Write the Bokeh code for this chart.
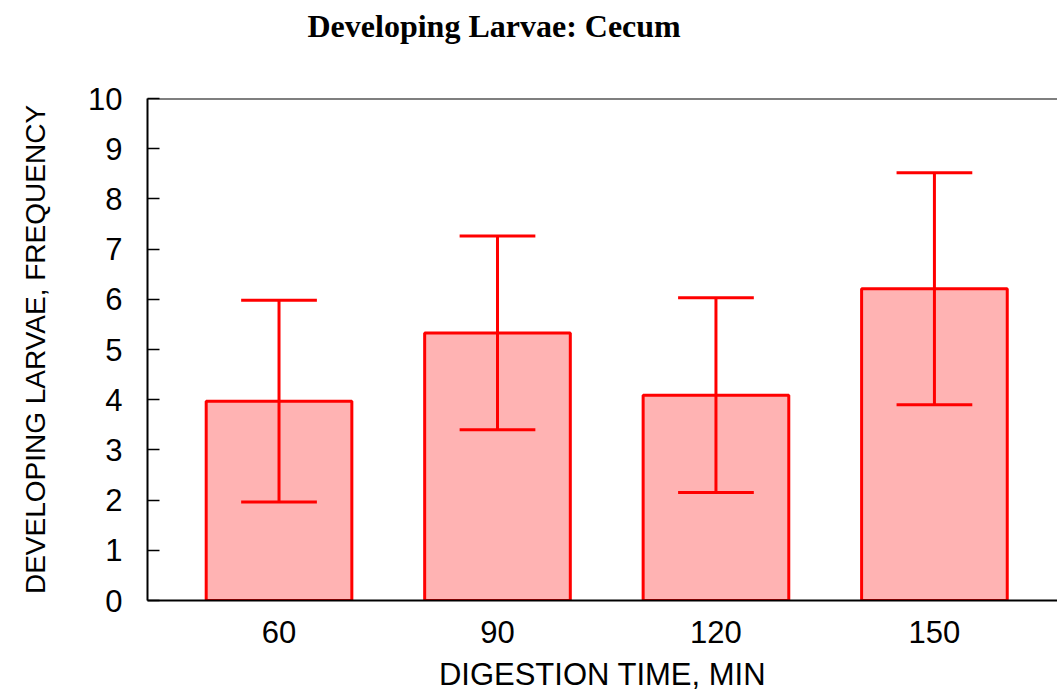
import numpy as np
from bokeh.plotting import figure
from bokeh.models import ColumnDataSource, Span, FixedTicker, Range1d, Title
from bokeh.embed import file_html
from bokeh.resources import INLINE

# Data
times = [60, 90, 120, 150]
means = [3.97, 5.33, 4.09, 6.21]
errors = [2.01, 1.93, 1.94, 2.31]
y_ticks = [0, 1, 2, 3, 4, 5, 6, 7, 8, 9, 10]
title_text = "Developing Larvae: Cecum"

lower = [m - e for m, e in zip(means, errors)]
upper = [m + e for m, e in zip(means, errors)]
cap_half = 5.2
src = ColumnDataSource(dict(
    x=times, top=means, lo=lower, hi=upper,
    cl=[t - cap_half for t in times], cr=[t + cap_half for t in times],
))

p = figure(width=1057, height=694, output_backend="svg", toolbar_location=None,
           x_range=Range1d(41.94, 166.9), y_range=Range1d(0, 10),
           min_border_left=147, min_border_right=0, min_border_top=98,
           min_border_bottom=94)

# spacer panel between the title and the frame
p.add_layout(Title(text=" ", text_font_size="10px", standoff=40), "above")

p.title.text = title_text
p.title.text_font = "Liberation Serif"
p.title.text_font_style = "bold"
p.title.text_font_size = "32px"
p.title.align = "left"
p.title.offset = 160
p.title.standoff = 4
p.title.text_color = "black"

p.outline_line_color = None
p.grid.visible = False
p.background_fill_color = "white"
p.border_fill_color = "white"

red = "#FF0000"
p.vbar(x="x", top="top", bottom=0, width=20, source=src,
       fill_color="#FFB3B3", line_color=red, line_width=3)
p.segment(x0="x", x1="x", y0="lo", y1="hi", source=src, line_color=red, line_width=3)
p.segment(x0="cl", x1="cr", y0="hi", y1="hi", source=src, line_color=red, line_width=3)
p.segment(x0="cl", x1="cr", y0="lo", y1="lo", source=src, line_color=red, line_width=3)

p.add_layout(Span(location=10, dimension="width", line_color="black", line_width=2))

# axes
p.yaxis.ticker = FixedTicker(ticks=y_ticks)
p.yaxis.minor_tick_line_color = None
p.yaxis.major_tick_in = 12
p.yaxis.major_tick_out = 0
p.yaxis.major_tick_line_width = 1.5
p.yaxis.axis_line_width = 2
p.yaxis.major_label_standoff = 25
p.yaxis.major_label_text_font = "Liberation Sans"
p.yaxis.major_label_text_font_size = "31px"
p.yaxis.major_label_text_color = "black"
p.yaxis.axis_label = "DEVELOPING LARVAE, FREQUENCY"
p.yaxis.axis_label_text_font = "Liberation Sans"
p.yaxis.axis_label_text_font_size = "28px"
p.yaxis.axis_label_text_font_style = "normal"
p.yaxis.axis_label_text_color = "black"
p.yaxis.axis_label_standoff = 34

p.xaxis.ticker = FixedTicker(ticks=times)
p.xaxis.minor_tick_line_color = None
p.xaxis.major_tick_in = 0
p.xaxis.major_tick_out = 0
p.xaxis.axis_line_width = 2
p.xaxis.major_label_standoff = 20
p.xaxis.major_label_text_font = "Liberation Sans"
p.xaxis.major_label_text_font_size = "31px"
p.xaxis.major_label_text_color = "black"
p.xaxis.axis_label = "DIGESTION TIME, MIN"
p.xaxis.axis_label_text_font = "Liberation Sans"
p.xaxis.axis_label_text_font_size = "31px"
p.xaxis.axis_label_text_font_style = "normal"
p.xaxis.axis_label_text_color = "black"
p.xaxis.axis_label_standoff = 11

open("out.html", "w").write(file_html(p, INLINE))
